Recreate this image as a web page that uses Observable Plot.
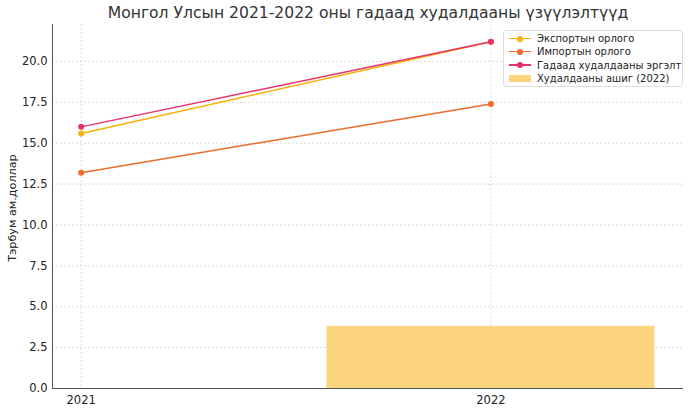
<!DOCTYPE html>
<html>
<head>
<meta charset="utf-8">
<script src="https://cdn.jsdelivr.net/npm/d3@7"></script>
<script src="https://cdn.jsdelivr.net/npm/@observablehq/plot@0.6"></script>
<style>
  html, body { margin: 0; padding: 0; background: #fff; }
  body { width: 690px; height: 411px; position: relative; overflow: hidden; font-family: "DejaVu Sans", sans-serif; }
  #title { height: 20px; line-height: 26px; text-align: center; font-size: 15.6px; color: #333; padding-left: 46px; box-sizing: border-box; white-space: nowrap; }
  #ylabel { position: absolute; left: 12px; top: 208px; transform: translate(-50%, -50%) rotate(-90deg); font-size: 11.2px; color: #222; white-space: nowrap; }
  #legend { position: absolute; left: 503px; top: 30px; width: 180px; height: 57px; border: 1px solid #ddd; border-radius: 3px; background: rgba(255,255,255,0.9); font-size: 10px; color: #222; box-sizing: border-box; padding: 1px 0 0 5px; white-space: nowrap; }
  .row { display: flex; align-items: center; height: 13.3px; }
  .sym { width: 22px; height: 10px; position: relative; margin-right: 6px; flex: none; }
  .sym .ln { position: absolute; left: 0; right: 0; top: 4px; height: 1.5px; }
  .sym .dt { position: absolute; left: 8px; top: 2px; width: 6px; height: 6px; border-radius: 50%; }
  .sym .bx { position: absolute; left: 0; right: 0; top: 1px; height: 7px; }
  #chart svg text { font-size: 11.5px; }
</style>
</head>
<body>
<div id="title">Монгол Улсын 2021-2022 оны гадаад худалдааны үзүүлэлтүүд</div>
<div id="chart"></div>
<div id="ylabel">Тэрбум ам.доллар</div>
<div id="legend"></div>
<script>
const years = [2021, 2022];
const exportVals = [15.6, 21.2];
const importVals = [13.2, 17.4];
const turnoverVals = [16.0, 21.2];
const balanceYears = [2022];
const balanceVals = [3.8];
const seriesNames = ["Экспортын орлого", "Импортын орлого", "Гадаад худалдааны эргэлт", "Худалдааны ашиг (2022)"];
const seriesColors = ["#f7b10a", "#ee6a2c", "#e8336a", "#fdd47e"];
const yTicks = [0, 2.5, 5, 7.5, 10, 12.5, 15, 17.5, 20];

const lines = [exportVals, importVals, turnoverVals].map((vals, i) =>
  years.map((y, j) => ({year: y, value: vals[j], series: seriesNames[i]})));
const balance = balanceYears.map((y, i) => ({year: y, value: balanceVals[i]}));

const marks = [
  Plot.gridY(yTicks, {stroke: "#ccc", strokeOpacity: 1, strokeDasharray: "2,2", strokeWidth: 0.7}),
  Plot.gridX(years, {stroke: "#ccc", strokeOpacity: 1, strokeDasharray: "2,2", strokeWidth: 0.7}),
  Plot.rectY(balance, {x1: d => d.year - 0.4, x2: d => d.year + 0.4, y1: 0, y2: "value", fill: seriesColors[3]}),
];
lines.forEach((data, i) => {
  marks.push(Plot.line(data, {x: "year", y: "value", stroke: seriesColors[i], strokeWidth: 1.5}));
  marks.push(Plot.dot(data, {x: "year", y: "value", fill: seriesColors[i], r: 3}));
});
marks.push(Plot.ruleY([0], {stroke: "#555", strokeWidth: 1}));
marks.push(Plot.ruleX([2020.93], {stroke: "#555", strokeWidth: 1}));

const chart = Plot.plot({
  width: 690,
  height: 391,
  marginTop: 4,
  marginBottom: 23,
  marginLeft: 52,
  marginRight: 7,
  style: {fontFamily: "DejaVu Sans, sans-serif", fontSize: "11.5px", color: "#222", background: "#fff"},
  x: {type: "linear", domain: [2020.93, 2022.47], ticks: years, tickFormat: d => String(d), tickSize: 0, tickPadding: 7, label: null},
  y: {domain: [0, 22.26], ticks: yTicks, tickFormat: d3.format(".1f"), tickSize: 0, tickPadding: 5, label: null},
  marks
});
document.getElementById("chart").appendChild(chart);

const leg = document.getElementById("legend");
seriesNames.forEach((name, i) => {
  const row = document.createElement("div");
  row.className = "row";
  const sym = document.createElement("div");
  sym.className = "sym";
  if (i < 3) {
    sym.innerHTML = `<div class="ln" style="background:${seriesColors[i]}"></div><div class="dt" style="background:${seriesColors[i]}"></div>`;
  } else {
    sym.innerHTML = `<div class="bx" style="background:${seriesColors[i]}"></div>`;
  }
  const t = document.createElement("span");
  t.textContent = name;
  row.appendChild(sym);
  row.appendChild(t);
  leg.appendChild(row);
});
</script>
</body>
</html>
